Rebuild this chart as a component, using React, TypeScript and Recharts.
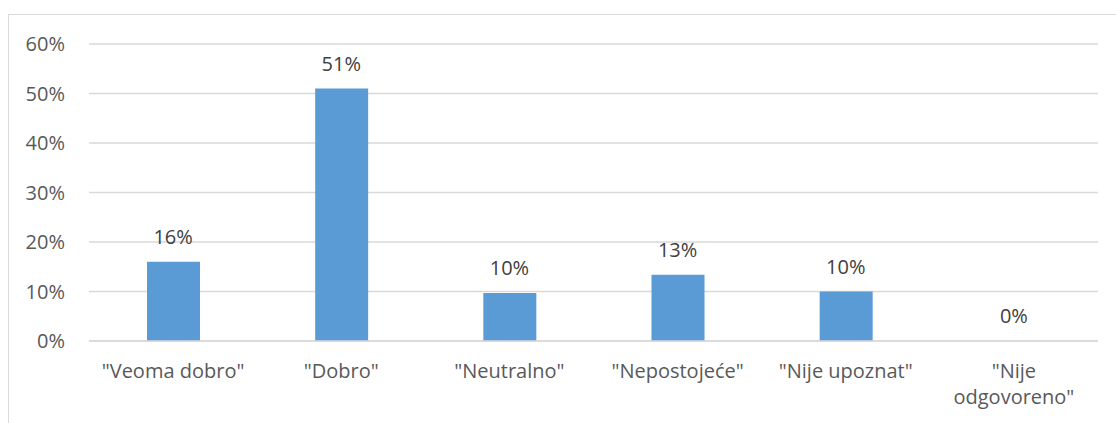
import { ComposedChart, Bar, Line, XAxis, YAxis, CartesianGrid, LabelList } from 'recharts';

const categories = ['"Veoma dobro"', '"Dobro"', '"Neutralno"', '"Nepostojeće"', '"Nije upoznat"', '"Nije odgovoreno"'];
const shares = [0.16, 0.51, 0.097, 0.134, 0.1, 0];
const yTicks = [0, 0.1, 0.2, 0.3, 0.4, 0.5, 0.6];

const data = categories.map((name, i) => ({ name, value: shares[i] }));

const FONT = '"Open Sans", sans-serif';
const pct = (v: number) => `${Math.round(v * 100)}%`;

let ctx: CanvasRenderingContext2D | null = null;
function measure(s: string) {
  if (!ctx) {
    ctx = document.createElement('canvas').getContext('2d');
    if (ctx) ctx.font = `20px ${FONT}`;
  }
  return ctx ? ctx.measureText(s).width : s.length * 10;
}

// wrap like Excel does when a label is wider than its category slot
function wrap(label: string, max: number) {
  const words = label.split(' ');
  const lines: string[] = [];
  let cur = '';
  words.forEach((w) => {
    const next = cur ? `${cur} ${w}` : w;
    if (cur && measure(next) > max) {
      lines.push(cur);
      cur = w;
    } else {
      cur = next;
    }
  });
  if (cur) lines.push(cur);
  return lines;
}

function CategoryTick(props: any) {
  const { x, y, payload } = props;
  const lines = wrap(String(payload.value), 156);
  return (
    <text x={x} y={y} textAnchor="middle" fill="#595959" fontSize={20} fontFamily={FONT}>
      {lines.map((l, i) => (
        <tspan key={i} x={x} dy={i === 0 ? '0.85em' : 26}>
          {l}
        </tspan>
      ))}
    </text>
  );
}

export default function App() {
  return (
    <div style={{ position: 'absolute', left: 0, top: 0, width: 1116, height: 423, overflow: 'hidden', background: '#fff' }}>
      <style>{'body{margin:0;overflow:hidden}'}</style>
      <div
        style={{
          position: 'absolute',
          left: 8,
          top: 14,
          width: 1130,
          height: 430,
          border: '1px solid #d9d9d9',
        }}
      />
      <div style={{ position: 'absolute', left: 0, top: 0 }}>
        <ComposedChart width={1116} height={423} data={data} margin={{ top: 44, right: 18, bottom: 22, left: 0 }}>
          <CartesianGrid horizontal vertical={false} stroke="#d9d9d9" strokeWidth={1.3} />
          <XAxis
            dataKey="name"
            axisLine={{ stroke: '#d9d9d9', strokeWidth: 1.3 }}
            tickLine={false}
            tickSize={0}
            tickMargin={20}
            height={60}
            interval={0}
            tick={<CategoryTick />}
          />
          <YAxis
            width={89}
            domain={[0, 0.6]}
            ticks={yTicks}
            tickFormatter={pct}
            axisLine={false}
            tickLine={false}
            tickSize={0}
            tickMargin={24}
            tick={{ fill: '#595959', fontSize: 20, fontFamily: FONT }}
          />
          <Bar dataKey="value" fill="#5b9bd5" barSize={53} isAnimationActive={false} />
          <Line
            dataKey="value"
            stroke="none"
            dot={false}
            activeDot={false}
            isAnimationActive={false}
            legendType="none"
          >
            <LabelList
              dataKey="value"
              position="top"
              offset={18}
              formatter={(v: any) => pct(Number(v))}
              style={{ fill: '#404040', fontSize: 20, fontFamily: FONT }}
            />
          </Line>
        </ComposedChart>
      </div>
    </div>
  );
}
